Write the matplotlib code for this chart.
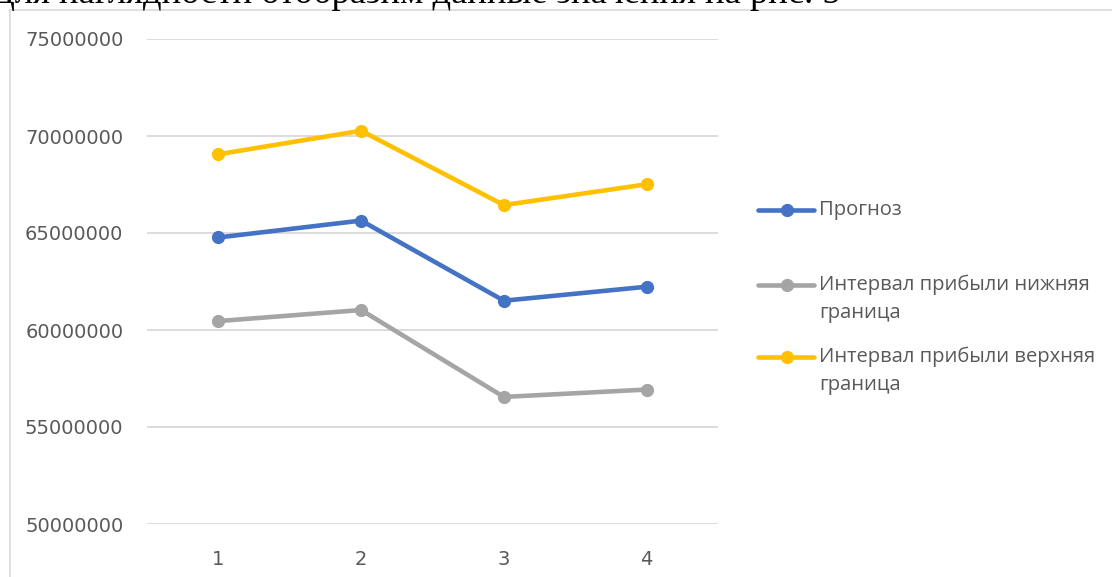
import matplotlib
matplotlib.use("Agg")
import matplotlib.pyplot as plt
from matplotlib.lines import Line2D

W, H = 1112, 577

periods = [1, 2, 3, 4]
forecast = [64.77e6, 65.64e6, 61.51e6, 62.23e6]
lower = [60.46e6, 61.03e6, 56.55e6, 56.93e6]
upper = [69.06e6, 70.27e6, 66.44e6, 67.51e6]

series_names = ["Прогноз",
                "Интервал прибыли нижняя\nграница",
                "Интервал прибыли верхняя\nграница"]
series_colors = ["#4472C4", "#A5A5A5", "#FFC000"]
y_ticks = [50000000, 55000000, 60000000, 65000000, 70000000, 75000000]

text_color = "#595959"
grid_color = "#D9D9D9"
tick_font = "DejaVu Sans"
legend_font = "Open Sans"

fig = plt.figure(figsize=(W / 100, H / 100), dpi=100)


def px(x, y):
    # pixel position (from top-left) -> figure fraction
    return x / W, 1 - y / H


# caption line of the surrounding document, cut by the top edge
fig.text(*px(840, 3), "Для наглядности отобразим данные значения на рис. 5",
         family="Liberation Serif", fontsize=26.4, color="black",
         ha="right", va="baseline")

# chart area border
fig.add_artist(Line2D([10 / W, 10 / W], [0, 1 - 10 / H], color=grid_color, lw=1.2))
fig.add_artist(Line2D([10 / W, 1], [1 - 10 / H, 1 - 10 / H], color=grid_color, lw=1.2))

ax = fig.add_axes([147 / W, 1 - 524 / H, (718 - 147) / W, (524 - 39) / H])

for vals, color in zip([forecast, lower, upper], series_colors):
    ax.plot(periods, vals, color=color, lw=3.3, marker="o", ms=8.5,
            solid_capstyle="round", zorder=3)

ax.set_xlim(0.5, 4.5)
ax.set_ylim(y_ticks[0], y_ticks[-1])
ax.set_xticks(periods)
ax.set_xticklabels([str(p) for p in periods])
ax.set_yticks(y_ticks)
ax.set_yticklabels([str(v) for v in y_ticks])
ax.tick_params(length=0, colors=text_color, labelsize=14)
ax.tick_params(axis="y", pad=17)
ax.tick_params(axis="x", pad=19)
for lab in ax.get_xticklabels() + ax.get_yticklabels():
    lab.set_family(tick_font)
for s in ax.spines.values():
    s.set_visible(False)
ax.grid(axis="y", color=grid_color, lw=1.3)
ax.set_axisbelow(True)

# legend entries, handle aligned with the first text line
legend_rows = [210, 285, 357]
for name, color, y in zip(series_names, series_colors, legend_rows):
    x0, yy = px(758, y)
    x1, _ = px(814, y)
    xm, _ = px(787, y)
    fig.add_artist(Line2D([x0, x1], [yy, yy], color=color, lw=3.3,
                          solid_capstyle="round"))
    fig.add_artist(Line2D([xm], [yy], color=color, marker="o", ms=8.5, lw=0))
    fig.text(*px(819, y - 10), name, family=legend_font, fontsize=14.5,
             color=text_color, ha="left", va="top", linespacing=1.5)

fig.savefig("out.png", dpi=100)
